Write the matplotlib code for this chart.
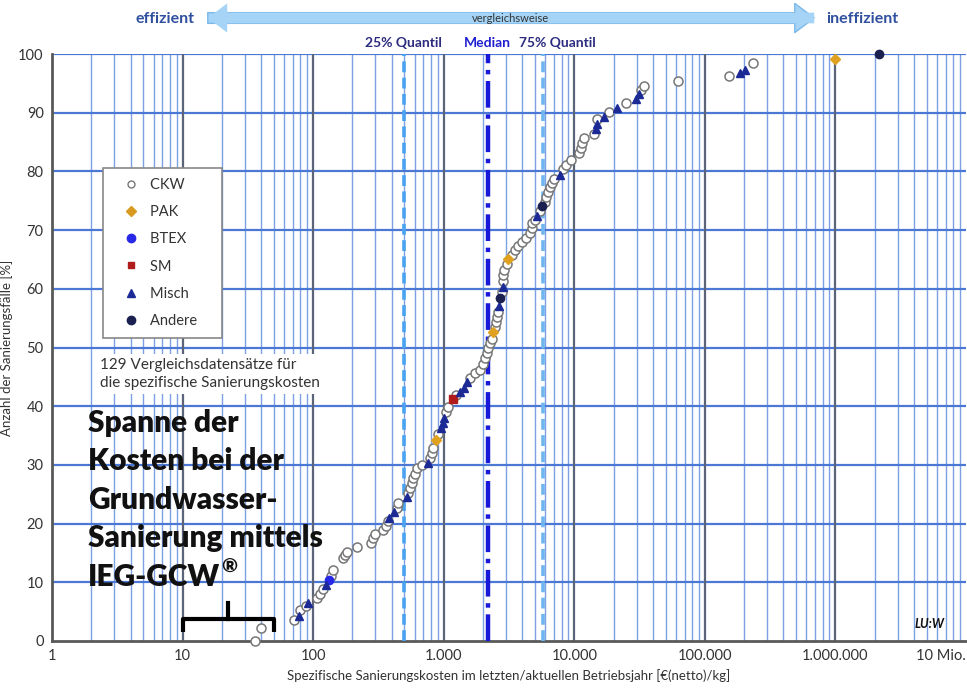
import matplotlib
matplotlib.use("Agg")
import matplotlib.pyplot as plt
from matplotlib.lines import Line2D
from matplotlib.patches import FancyArrowPatch
import numpy as np

plt.rcParams['font.family'] = ['Lato', 'DejaVu Sans']

# ---------------- data ----------------
ckw_x = [35.7, 39.7, 71, 80, 88, 107, 112, 118, 136, 141, 168, 175, 181, 216, 276,
         286, 296, 341, 359, 372, 436, 444, 530, 548, 568, 578, 599, 621, 678, 780,
         808, 822, 898, 1035, 1072, 1233, 1578, 1723, 1882, 1984, 2055, 2130, 2168, 2245, 2324,
         2450, 2495, 2540, 2585, 2775, 2825, 2825, 2872, 3030, 3305, 3485, 3675, 3945, 4305, 4540,
         4705, 4705, 4960, 5415, 5915, 6125, 6240, 6460, 6695, 7050, 8125, 8710, 9520, 10960, 11350,
         11550, 11970, 14280, 15040, 18580, 25060, 32670, 34450, 62700, 153900, 235000]
ckw_y = [0, 2.2, 3.6, 5.3, 6.0, 7.3, 8.0, 8.9, 11.1, 12.1, 14.1, 14.7, 15.2, 16.0, 16.7,
         17.5, 18.2, 18.9, 19.6, 20.4, 22.7, 23.5, 25.2, 26.1, 26.9, 27.8, 28.4, 29.5, 30.0, 31.2,
         32.0, 32.9, 35.3, 39.0, 39.9, 41.9, 44.8, 45.7, 46.2, 47.2, 48.2, 49.1, 49.9, 50.8, 51.4,
         53.5, 54.3, 55.2, 56.0, 59.5, 61.3, 62.4, 63.2, 64.2, 65.8, 66.6, 67.3, 68.0, 68.7, 69.5,
         70.4, 71.2, 71.7, 73.3, 74.8, 75.6, 76.5, 77.3, 78.0, 78.7, 80.4, 81.1, 81.9, 83.1, 84.0,
         84.8, 85.7, 86.4, 88.9, 90.1, 91.7, 93.9, 94.5, 95.4, 96.3, 98.5]

pak_x = [867, 2365, 3083, 1000000]
pak_y = [34.2, 52.6, 65.1, 99.1]

btex_x = [132]
btex_y = [10.4]

sm_x = [1170]
sm_y = [41.2]

misch_x = [78, 91, 125, 379, 414, 520, 753, 947, 981, 998, 1324, 1420, 1497, 2630, 2825,
           5225, 7710, 14790, 15040, 17010, 21420, 29920, 31550, 187000, 204000]
misch_y = [4.3, 6.5, 9.5, 21.0, 22.0, 24.5, 30.3, 36.3, 37.1, 38.0, 42.4, 43.1, 44.1, 57.1, 60.3,
           72.4, 79.4, 87.2, 88.1, 89.3, 90.8, 92.3, 93.2, 96.8, 97.3]

andere_x = [2680, 5610, 2160000]
andere_y = [58.4, 74.1, 100]

quantile_25 = 500
median = 2200
quantile_75 = 5800

x_ticks = [1, 10, 100, 1000, 10000, 100000, 1000000, 10000000]
x_ticklabels = ["1", "10", "100", "1.000", "10.000", "100.000", "1.000.000", "10 Mio."]
y_ticks = [0, 10, 20, 30, 40, 50, 60, 70, 80, 90, 100]

# ---------------- figure ----------------
W, H = 967, 696
fig = plt.figure(figsize=(W / 100, H / 100), dpi=100)
ax = fig.add_axes([52 / W, 55 / H, (966 - 52) / W, (641 - 54) / H])
ax.set_xscale('log')
ax.set_xlim(1, 1e7)
ax.set_ylim(0, 100)

# grid
for dec in range(7):
    for m in range(2, 10):
        ax.axvline(m * 10 ** dec, color='#7d9fe3', lw=1.0, zorder=1)
for dec in range(1, 7):
    ax.axvline(10 ** dec, color='#5b6478', lw=1.6, zorder=1.2)
for yv in y_ticks[1:]:
    ax.axhline(yv, color='#4a78d4', lw=1.6, zorder=1.1)

for s in ['top', 'right']:
    ax.spines[s].set_visible(False)
for s in ['left', 'bottom']:
    ax.spines[s].set_color('#595959')
    ax.spines[s].set_linewidth(2)
    ax.spines[s].set_zorder(1.5)

ax.set_xticks(x_ticks)
ax.set_xticklabels(x_ticklabels)
ax.xaxis.set_minor_locator(matplotlib.ticker.NullLocator())
ax.set_yticks(y_ticks)
ax.tick_params(axis='both', length=0, labelsize=10.5, colors='#333333', pad=6)
ax.get_xticklabels()[-1].set_horizontalalignment('right')

ax.set_xlabel("Spezifische Sanierungskosten im letzten/aktuellen Betriebsjahr [€(netto)/kg]",
              fontsize=9.5, color='#333333', labelpad=4)
ax.set_ylabel("Anzahl der Sanierungsfälle [%]", fontsize=9.5, color='#333333')
ax.yaxis.set_label_coords((13 - 52) / (966 - 52), 0.5)

# quantile lines
ax.axvline(quantile_25, color='#4aa3f0', lw=2.6, ls=(0, (3, 1.5)), zorder=2)
ax.axvline(quantile_75, color='#6fb6f0', lw=2.6, ls=(0, (3, 1.5)), zorder=2)
ax.axvline(median, color='#1818d8', lw=3.2, ls=(0, (6, 1.5, 1, 1.5)), zorder=2)

# data points
ax.plot(ckw_x, ckw_y, 'o', ms=6.5, mfc='white', mec='#777777', mew=1.1, zorder=4, clip_on=False)
ax.plot(pak_x, pak_y, 'D', ms=5, mfc='#e0a020', mec='#e0a020', zorder=5, clip_on=False)
ax.plot(btex_x, btex_y, 'o', ms=6, mfc='#2828e8', mec='#2828e8', zorder=5, clip_on=False)
ax.plot(sm_x, sm_y, 's', ms=5.5, mfc='#b01c1c', mec='#b01c1c', zorder=5, clip_on=False)
ax.plot(misch_x, misch_y, '^', ms=5.5, mfc='#1c2a96', mec='#1c2a96', zorder=5, clip_on=False)
ax.plot(andere_x, andere_y, 'o', ms=6, mfc='#1a2050', mec='#1a2050', zorder=5, clip_on=False)

# legend
handles = [
    Line2D([], [], ls='none', marker='o', ms=5, mfc='white', mec='#777777', mew=1),
    Line2D([], [], ls='none', marker='D', ms=5, mfc='#d89a20', mec='#d89a20'),
    Line2D([], [], ls='none', marker='o', ms=6, mfc='#2828e8', mec='#2828e8'),
    Line2D([], [], ls='none', marker='s', ms=5, mfc='#b01c1c', mec='#b01c1c'),
    Line2D([], [], ls='none', marker='^', ms=6, mfc='#1c2a96', mec='#1c2a96'),
    Line2D([], [], ls='none', marker='o', ms=6, mfc='#1a2050', mec='#1a2050'),
]
labels = ["CKW", "PAK", "BTEX", "SM", "Misch", "Andere"]
leg = ax.legend(handles, labels, loc='upper left',
                bbox_to_anchor=(103 / W, 1 - 168 / H), bbox_transform=fig.transFigure,
                fontsize=10.5, labelspacing=0.9, handlelength=2.4, handletextpad=0.1,
                borderpad=0.7, borderaxespad=0, fancybox=False, framealpha=1,
                edgecolor='#888888')
leg.get_frame().set_linewidth(1.2)
leg.set_zorder(10)
for t in leg.get_texts():
    t.set_color('#333333')
    t.set_text(t.get_text() + "    ")

# info text box
fig.text(100 / W, 1 - 374 / H,
         "129 Vergleichsdatensätze für\ndie spezifische Sanierungskosten",
         fontsize=11, color='#333333', va='center', ha='left', linespacing=1.3,
         bbox=dict(boxstyle='square,pad=0.3', fc='white', ec='none'), zorder=10)

# big text
big_lines = ["Spanne der", "Kosten bei der", "Grundwasser-", "Sanierung mittels", "IEG-GCW"]
for i, line in enumerate(big_lines):
    t = fig.text(88 / W, 1 - (423 + 38.5 * i) / H, line,
                 fontsize=21.5, fontweight='heavy', color='#111111',
                 va='center', ha='left')
fig.canvas.draw()
bb = t.get_window_extent()
fig.text((bb.x1 + 1) / W, (bb.y1 + 4) / H, "®", fontsize=14, fontweight='heavy',
         color='#111111', va='top', ha='left')

# bracket
ax.plot([10, 10, 50, 50], [1.6, 3.7, 3.7, 1.6], color='black', lw=3,
        solid_joinstyle='round', solid_capstyle='butt', zorder=6)
ax.plot([22.4, 22.4], [3.7, 6.4], color='black', lw=3, zorder=6)

# LU:W logo
fig.text(930 / W, 1 - 624 / H, "LU:W", fontsize=9, fontweight='bold', style='italic',
         color='#111111', ha='center', va='center')

# quantile labels
fig.text(403 / W, 1 - 43 / H, "25% Quantil", fontsize=10, fontweight='bold',
         color='#2b2b80', ha='center', va='center')
fig.text(487 / W, 1 - 43 / H, "Median", fontsize=10, fontweight='bold',
         color='#2020d0', ha='center', va='center')
fig.text(557 / W, 1 - 43 / H, "75% Quantil", fontsize=10, fontweight='bold',
         color='#2b2b80', ha='center', va='center')

# top arrow
style = 'simple,head_length=1.0,head_width=1.5,tail_width=0.55'
arr = FancyArrowPatch((205 / W, 1 - 18 / H), (817 / W, 1 - 18 / H),
                      transform=fig.transFigure, arrowstyle=style,
                      mutation_scale=14, fc='#a5d4f6', ec='#7ab8ea', lw=1)
fig.patches.append(arr)
arr2 = FancyArrowPatch((817 / W, 1 - 18 / H), (205 / W, 1 - 18 / H),
                       transform=fig.transFigure, arrowstyle=style,
                       mutation_scale=14, fc='#a5d4f6', ec='none', lw=0)
fig.patches.append(arr2)
fig.text(510 / W, 1 - 18 / H, "vergleichsweise", fontsize=8, color='#333333',
         ha='center', va='center')
fig.text(165 / W, 1 - 19 / H, "effizient", fontsize=11.5, fontweight='bold',
         color='#2f4f9f', ha='center', va='center')
fig.text(862 / W, 1 - 19 / H, "ineffizient", fontsize=11.5, fontweight='bold',
         color='#2f4f9f', ha='center', va='center')

fig.savefig("out.png", dpi=100)
